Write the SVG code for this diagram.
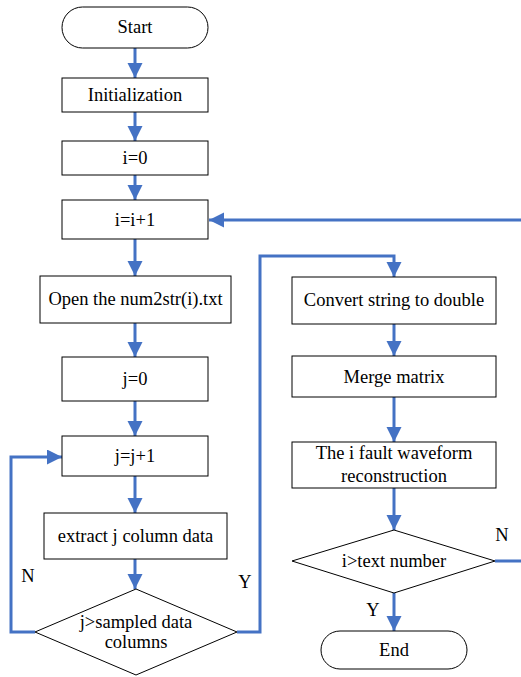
<svg xmlns="http://www.w3.org/2000/svg" width="521" height="677" viewBox="0 0 521 677">
<style>
.box{fill:#fff;stroke:#000;stroke-width:1}
.t{font-family:"Liberation Serif","Times New Roman",serif;font-size:18.5px;fill:#000;text-anchor:middle}
.c{fill:none;stroke:#4472C4;stroke-width:3}
</style>
<defs>
<marker id="ah" markerUnits="userSpaceOnUse" markerWidth="16" markerHeight="16" refX="15" refY="7.5" orient="auto">
<path d="M0,0 L15,7.5 L0,15 z" fill="#4472C4"/>
</marker>
</defs>
<rect width="521" height="677" fill="#fff"/>
<g id="connectors">
<path class="c" d="M135,48 V78" marker-end="url(#ah)"/>
<path class="c" d="M135,112 V141" marker-end="url(#ah)"/>
<path class="c" d="M135,175 V200" marker-end="url(#ah)"/>
<path class="c" d="M135,239 V276" marker-end="url(#ah)"/>
<path class="c" d="M135,323 V357" marker-end="url(#ah)"/>
<path class="c" d="M135,401 V436" marker-end="url(#ah)"/>
<path class="c" d="M135,476 V513" marker-end="url(#ah)"/>
<path class="c" d="M135,559 V589" marker-end="url(#ah)"/>
<path class="c" d="M35,632 H11 V457 H62" marker-end="url(#ah)"/>
<path class="c" d="M237,632 H260 V256 H394 V277" marker-end="url(#ah)"/>
<path class="c" d="M394,324 V356" marker-end="url(#ah)"/>
<path class="c" d="M394,397 V442" marker-end="url(#ah)"/>
<path class="c" d="M394,487 V530" marker-end="url(#ah)"/>
<path class="c" d="M394,593 V631" marker-end="url(#ah)"/>
<path class="c" d="M495,561 H524 V220 H209" marker-end="url(#ah)"/>
<text class="t" x="28" y="582">N</text>
<text class="t" x="245" y="588">Y</text>
<text class="t" x="502" y="541">N</text>
<text class="t" x="373" y="616">Y</text>
</g>
<g id="start"><rect class="box" x="62" y="7" width="146" height="41" rx="20.5"/><text class="t" x="135" y="33">Start</text></g>
<g id="init"><rect class="box" x="62" y="78" width="146" height="34"/><text class="t" x="135" y="101">Initialization</text></g>
<g id="i0"><rect class="box" x="62" y="141" width="146" height="34"/><text class="t" x="135" y="164">i=0</text></g>
<g id="iinc"><rect class="box" x="62" y="200" width="146" height="39"/><text class="t" x="135" y="226">i=i+1</text></g>
<g id="open"><rect class="box" x="40" y="276" width="191" height="47"/><text class="t" x="135.5" y="305">Open the num2str(i).txt</text></g>
<g id="j0"><rect class="box" x="62" y="357" width="146" height="44"/><text class="t" x="135" y="385">j=0</text></g>
<g id="jinc"><rect class="box" x="62" y="436" width="146" height="40"/><text class="t" x="135" y="462">j=j+1</text></g>
<g id="extract"><rect class="box" x="44" y="513" width="183" height="46"/><text class="t" x="135.5" y="542">extract j column data</text></g>
<g id="dec1"><polygon class="box" points="35,632 136,589 237,632 136,675"/><text class="t" x="136" y="628">j&gt;sampled data</text><text class="t" x="136" y="648">columns</text></g>
<g id="convert"><rect class="box" x="292" y="277" width="204" height="47"/><text class="t" x="394" y="306">Convert string to double</text></g>
<g id="merge"><rect class="box" x="292" y="356" width="204" height="41"/><text class="t" x="394" y="383">Merge matrix</text></g>
<g id="fault"><rect class="box" x="292" y="442" width="204" height="46"/><text class="t" x="394" y="459">The  i  fault waveform</text><text class="t" x="394" y="482">reconstruction</text></g>
<g id="dec2"><polygon class="box" points="292,561 394,530 495,561 394,593"/><text class="t" x="394" y="567">i&gt;text number</text></g>
<g id="end"><rect class="box" x="321" y="631" width="146" height="38" rx="19"/><text class="t" x="394" y="656">End</text></g>
</svg>
